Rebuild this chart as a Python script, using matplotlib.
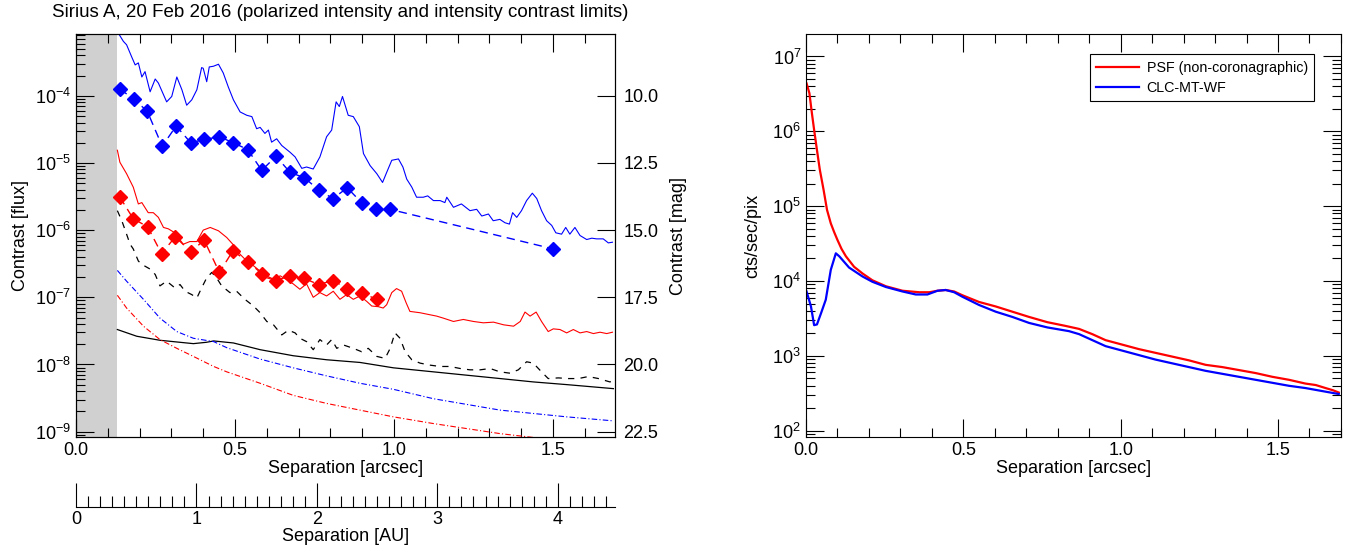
import numpy as np
import matplotlib.pyplot as plt
from matplotlib.ticker import MultipleLocator, LogLocator, FixedLocator, FormatStrFormatter, NullFormatter

plt.rcParams['font.family'] = ['Liberation Sans', 'DejaVu Sans']
plt.rcParams['mathtext.fontset'] = 'custom'
plt.rcParams['mathtext.rm'] = 'Liberation Sans'
plt.rcParams['mathtext.it'] = 'Liberation Sans:italic'
plt.rcParams['mathtext.bf'] = 'Liberation Sans:bold'

AU_PER_ARCSEC = 2.64
IWA = 0.13

# ---- left panel: log10(contrast) vs separation [arcsec] ----
# intensity contrast limit (blue solid)
int_sep = [0.130, 0.136, 0.149, 0.159, 0.175, 0.186, 0.196, 0.207, 0.217, 0.233, 0.249, 0.259, 0.285,
           0.301, 0.317, 0.333, 0.348, 0.364, 0.380, 0.395, 0.400, 0.411, 0.419, 0.432, 0.448, 0.463,
           0.479, 0.495, 0.516, 0.537, 0.553, 0.568, 0.579, 0.594, 0.605, 0.615, 0.631, 0.647, 0.673,
           0.689, 0.710, 0.725, 0.746, 0.767, 0.788, 0.804, 0.818, 0.828, 0.838, 0.856, 0.872, 0.891,
           0.904, 0.925, 0.946, 0.964, 0.977, 0.993, 1.014, 1.028, 1.040, 1.056, 1.071, 1.092, 1.106,
           1.124, 1.145, 1.160, 1.166, 1.187, 1.212, 1.239, 1.260, 1.276, 1.297, 1.312, 1.333, 1.349,
           1.363, 1.373, 1.386, 1.401, 1.417, 1.435, 1.449, 1.464, 1.480, 1.496, 1.509, 1.527, 1.540,
           1.553, 1.569, 1.585, 1.606, 1.622, 1.637, 1.658, 1.674, 1.687]
int_lg = [-2.95, -3.09, -3.19, -3.24, -3.42, -3.54, -3.51, -3.72, -3.64, -3.94, -3.75, -3.81, -4.09,
          -4.01, -3.72, -3.91, -4.14, -4.06, -3.91, -3.58, -3.59, -3.79, -3.57, -3.56, -3.53, -3.66,
          -3.87, -4.06, -4.24, -4.29, -4.31, -4.49, -4.47, -4.56, -4.51, -4.69, -4.64, -4.74, -4.84,
          -4.91, -5.08, -5.06, -5.09, -4.91, -4.61, -4.51, -4.09, -4.16, -4.01, -4.29, -4.31, -4.46,
          -4.86, -5.04, -5.16, -5.29, -5.14, -4.96, -4.94, -5.06, -5.24, -5.36, -5.51, -5.51, -5.49,
          -5.56, -5.56, -5.59, -5.51, -5.66, -5.61, -5.71, -5.69, -5.79, -5.76, -5.86, -5.84, -5.89,
          -5.91, -5.74, -5.81, -5.71, -5.56, -5.45, -5.53, -5.71, -5.86, -5.93, -6.04, -6.06, -5.96,
          -6.06, -5.96, -6.08, -6.14, -6.12, -6.13, -6.13, -6.19, -6.18]

# intensity point-source limits (blue diamonds)
int_pts_sep = [0.138, 0.182, 0.224, 0.271, 0.315, 0.361, 0.403, 0.451, 0.495, 0.540, 0.584,
               0.629, 0.673, 0.718, 0.763, 0.808, 0.853, 0.898, 0.943, 0.987, 1.501]
int_pts_lg = [-3.90, -4.05, -4.23, -4.75, -4.45, -4.70, -4.65, -4.61, -4.70, -4.80, -5.11,
              -4.90, -5.14, -5.22, -5.40, -5.53, -5.37, -5.59, -5.69, -5.69, -6.28]

# polarized intensity contrast limit (red solid)
pi_sep = [0.130, 0.138, 0.159, 0.180, 0.196, 0.207, 0.227, 0.243, 0.259, 0.275, 0.290, 0.311,
          0.337, 0.358, 0.380, 0.400, 0.422, 0.448, 0.474, 0.495, 0.516, 0.537, 0.558, 0.579,
          0.600, 0.621, 0.642, 0.663, 0.683, 0.704, 0.725, 0.746, 0.767, 0.788, 0.809, 0.830,
          0.851, 0.872, 0.893, 0.914, 0.930, 0.951, 0.966, 0.977, 0.993, 1.008, 1.024, 1.038,
          1.050, 1.082, 1.113, 1.134, 1.155, 1.187, 1.218, 1.250, 1.281, 1.313, 1.345, 1.376,
          1.397, 1.412, 1.428, 1.447, 1.464, 1.485, 1.501, 1.522, 1.543, 1.564, 1.585, 1.606,
          1.627, 1.648, 1.669, 1.687]
pi_lg = [-4.81, -4.99, -5.16, -5.36, -5.61, -5.59, -5.74, -5.74, -5.81, -5.96, -5.98, -6.04,
         -6.21, -6.17, -6.17, -6.00, -5.96, -6.01, -6.11, -6.22, -6.36, -6.46, -6.53, -6.61,
         -6.71, -6.74, -6.68, -6.74, -6.80, -6.88, -6.80, -7.00, -6.93, -6.98, -6.91, -7.03,
         -6.96, -7.03, -6.98, -7.06, -7.13, -7.14, -7.16, -7.11, -6.93, -6.87, -6.91, -7.08,
         -7.21, -7.23, -7.26, -7.28, -7.31, -7.36, -7.33, -7.36, -7.38, -7.37, -7.41, -7.43,
         -7.36, -7.22, -7.28, -7.22, -7.36, -7.51, -7.47, -7.48, -7.53, -7.48, -7.53, -7.51,
         -7.54, -7.52, -7.54, -7.52]

# polarized intensity point-source limits (red diamonds)
pi_pts_sep = [0.138, 0.180, 0.225, 0.269, 0.312, 0.361, 0.403, 0.451, 0.493, 0.542,
              0.584, 0.629, 0.673, 0.718, 0.763, 0.808, 0.853, 0.898, 0.945]
pi_pts_lg = [-5.51, -5.83, -5.95, -6.35, -6.10, -6.32, -6.15, -6.63, -6.31, -6.47,
             -6.65, -6.75, -6.68, -6.72, -6.81, -6.75, -6.87, -6.93, -7.03]

# black dashed
bd_sep = [0.130, 0.144, 0.159, 0.170, 0.180, 0.196, 0.207, 0.233, 0.249, 0.264, 0.285, 0.311,
          0.327, 0.343, 0.364, 0.380, 0.395, 0.411, 0.427, 0.442, 0.458, 0.484, 0.505, 0.531,
          0.558, 0.579, 0.600, 0.621, 0.647, 0.668, 0.689, 0.704, 0.725, 0.746, 0.767, 0.788,
          0.804, 0.820, 0.841, 0.872, 0.898, 0.919, 0.946, 0.972, 0.988, 1.003, 1.019, 1.035,
          1.056, 1.082, 1.113, 1.145, 1.176, 1.208, 1.239, 1.271, 1.302, 1.333, 1.365, 1.391,
          1.417, 1.438, 1.464, 1.485, 1.517, 1.548, 1.580, 1.611, 1.643, 1.679, 1.692]
bd_lg = [-5.71, -5.86, -6.06, -6.21, -6.28, -6.46, -6.51, -6.58, -6.66, -6.83, -6.76, -6.86,
         -6.81, -6.91, -6.96, -7.01, -6.86, -6.71, -6.63, -6.71, -6.83, -6.93, -6.91, -7.03,
         -7.13, -7.23, -7.36, -7.41, -7.56, -7.49, -7.53, -7.61, -7.66, -7.78, -7.63, -7.71,
         -7.63, -7.76, -7.71, -7.76, -7.81, -7.76, -7.88, -7.91, -7.76, -7.53, -7.61, -7.81,
         -7.93, -7.98, -8.01, -8.03, -8.03, -8.06, -8.08, -8.08, -8.06, -8.11, -8.13, -8.08,
         -7.96, -7.98, -8.11, -8.21, -8.20, -8.21, -8.21, -8.18, -8.21, -8.26, -8.24]

# black solid (smooth)
bs_sep = [0.130, 0.191, 0.264, 0.369, 0.410, 0.433, 0.495, 0.579, 0.683, 0.788, 0.893,
          0.998, 1.124, 1.229, 1.334, 1.438, 1.543, 1.690]
bs_lg = [-7.48, -7.58, -7.64, -7.69, -7.67, -7.65, -7.68, -7.78, -7.87, -7.93, -7.97,
         -8.05, -8.11, -8.16, -8.21, -8.26, -8.30, -8.36]

# blue dash-dot (smooth)
bdd_sep = [0.130, 0.159, 0.212, 0.264, 0.317, 0.369, 0.433, 0.474, 0.579, 0.683, 0.788,
           0.893, 0.998, 1.124, 1.334, 1.543, 1.690]
bdd_lg = [-6.60, -6.76, -7.03, -7.31, -7.51, -7.61, -7.66, -7.75, -7.92, -8.05, -8.17,
          -8.28, -8.37, -8.51, -8.68, -8.78, -8.84]

# red dash-dot (smooth)
rdd_sep = [0.130, 0.159, 0.212, 0.264, 0.317, 0.369, 0.433, 0.474, 0.579, 0.683, 0.788,
           0.893, 0.998, 1.124, 1.334, 1.480, 1.600]
rdd_lg = [-6.97, -7.16, -7.43, -7.63, -7.76, -7.88, -8.03, -8.11, -8.28, -8.46, -8.58,
          -8.68, -8.78, -8.88, -9.03, -9.11, -9.20]

# ---- right panel: log10(cts/sec/pix) ----
psf_sep = [0.002, 0.011, 0.019, 0.026, 0.035, 0.044, 0.056, 0.067, 0.079, 0.090, 0.100, 0.113,
           0.127, 0.153, 0.180, 0.211, 0.254, 0.307, 0.360, 0.392, 0.418, 0.444, 0.471, 0.497,
           0.550, 0.603, 0.656, 0.709, 0.767, 0.825, 0.868, 0.910, 0.952, 1.005, 1.058, 1.111,
           1.164, 1.217, 1.270, 1.323, 1.376, 1.429, 1.482, 1.535, 1.587, 1.620, 1.651, 1.675,
           1.693]
psf_lg = [6.64, 6.51, 6.24, 6.02, 5.75, 5.49, 5.22, 4.95, 4.77, 4.65, 4.55, 4.43,
          4.33, 4.19, 4.10, 4.01, 3.93, 3.87, 3.85, 3.85, 3.87, 3.88, 3.86, 3.81,
          3.72, 3.66, 3.59, 3.52, 3.45, 3.40, 3.36, 3.29, 3.21, 3.15, 3.09, 3.04,
          2.99, 2.94, 2.88, 2.85, 2.81, 2.77, 2.72, 2.68, 2.63, 2.61, 2.57, 2.54,
          2.51]

clc_sep = [0.002, 0.016, 0.026, 0.035, 0.048, 0.063, 0.079, 0.095, 0.106, 0.137, 0.180, 0.211,
           0.254, 0.307, 0.349, 0.386, 0.418, 0.444, 0.471, 0.497, 0.550, 0.603, 0.656, 0.709,
           0.767, 0.836, 0.868, 0.910, 0.952, 1.005, 1.058, 1.111, 1.164, 1.217, 1.270, 1.323,
           1.376, 1.429, 1.482, 1.535, 1.587, 1.640, 1.693]
clc_lg = [3.86, 3.66, 3.41, 3.42, 3.57, 3.75, 4.15, 4.37, 4.33, 4.18, 4.06, 3.99,
          3.92, 3.86, 3.82, 3.82, 3.87, 3.88, 3.85, 3.79, 3.68, 3.59, 3.52, 3.44,
          3.38, 3.33, 3.29, 3.21, 3.13, 3.07, 3.01, 2.95, 2.90, 2.85, 2.80, 2.76,
          2.72, 2.68, 2.64, 2.60, 2.57, 2.53, 2.49]


def p(lg):
    return 10.0 ** np.asarray(lg)


fig = plt.figure(figsize=(13.6, 5.54), dpi=100)
ax = fig.add_axes([0.0559, 0.2112, 0.3963, 0.7274])
ax2 = fig.add_axes([0.5926, 0.2112, 0.3934, 0.7274])

tick_kw = dict(direction='in', top=True, labelsize=13)

# ---------- left panel ----------
ax.axvspan(0, IWA, color='#d0d0d0', lw=0, zorder=0)
ax.plot(int_sep, p(int_lg), color='blue', lw=0.8)
ax.plot(pi_sep, p(pi_lg), color='red', lw=0.8)
ax.plot(bd_sep, p(bd_lg), color='black', lw=0.9, dashes=(5, 5))
ax.plot(bs_sep, p(bs_lg), color='black', lw=0.9)
ax.plot(bdd_sep, p(bdd_lg), color='blue', lw=0.8, dashes=(5, 2, 1, 2))
ax.plot(rdd_sep, p(rdd_lg), color='red', lw=0.8, dashes=(5, 2, 1, 2))
ax.plot(int_pts_sep, p(int_pts_lg), color='blue', lw=1.0, dashes=(6, 4),
        marker='D', ms=7.5, mec='blue', mfc='blue')
ax.plot(pi_pts_sep, p(pi_pts_lg), color='red', lw=1.0, dashes=(6, 4),
        marker='D', ms=7.5, mec='red', mfc='red')

ax.set_yscale('log')
ax.set_xlim(0, 1.695)
ax.set_ylim(10 ** -9.08, 10 ** -3.08)
ax.xaxis.set_major_locator(MultipleLocator(0.5))
ax.xaxis.set_minor_locator(MultipleLocator(0.1))
ax.xaxis.set_major_formatter(FormatStrFormatter('%.1f'))
ax.yaxis.set_major_locator(LogLocator(base=10, numticks=20))
ax.yaxis.set_minor_locator(LogLocator(base=10, subs=np.arange(2, 10), numticks=20))
ax.yaxis.set_minor_formatter(NullFormatter())
ax.tick_params(axis='both', which='major', length=13, width=0.8, **tick_kw)
ax.tick_params(axis='both', which='minor', length=6.5, width=0.8, direction='in', top=True)
ax.tick_params(axis='y', right=False)
ax.set_xlabel('Separation [arcsec]', fontsize=13, labelpad=1)
ax.set_ylabel('Contrast [flux]', fontsize=13, labelpad=4)
fig.text(0.25, 0.978, 'Sirius A, 20 Feb 2016 (polarized intensity and intensity contrast limits)',
         fontsize=13.5, ha='center', va='center')

mag = ax.twinx()
y0, y1 = ax.get_ylim()
mag.set_ylim(-2.5 * np.log10(y0), -2.5 * np.log10(y1))
mag.yaxis.set_major_locator(FixedLocator([10.0, 12.5, 15.0, 17.5, 20.0, 22.5]))
mag.yaxis.set_major_formatter(FormatStrFormatter('%.1f'))
mag.tick_params(axis='y', direction='in', length=13, width=0.8, labelsize=13, pad=6)
mag.set_ylabel('Contrast [mag]', fontsize=13, labelpad=8)

au = ax.secondary_xaxis(-0.174, functions=(lambda x: x * AU_PER_ARCSEC,
                                           lambda x: x / AU_PER_ARCSEC))
au.xaxis.set_major_locator(FixedLocator([0, 1, 2, 3, 4]))
au.xaxis.set_minor_locator(FixedLocator(np.round(np.arange(0.1, 4.45, 0.1), 1)))
au.xaxis.set_major_formatter(FormatStrFormatter('%d'))
au.tick_params(which='major', direction='in', length=17, width=0.8, labelsize=13, pad=3)
au.tick_params(which='minor', direction='in', length=8, width=0.8)
au.set_xlabel('Separation [AU]', fontsize=13, labelpad=0)

for s in ax.spines.values():
    s.set_linewidth(0.8)

# ---------- right panel ----------
ax2.plot(psf_sep, p(psf_lg), color='red', lw=1.6, label='PSF (non-coronagraphic)')
ax2.plot(clc_sep, p(clc_lg), color='blue', lw=1.6, label='CLC-MT-WF')
ax2.set_yscale('log')
ax2.set_xlim(0, 1.7)
ax2.set_ylim(10 ** 1.916, 10 ** 7.30)
ax2.xaxis.set_major_locator(MultipleLocator(0.5))
ax2.xaxis.set_minor_locator(MultipleLocator(0.1))
ax2.xaxis.set_major_formatter(FormatStrFormatter('%.1f'))
ax2.yaxis.set_major_locator(LogLocator(base=10, numticks=20))
ax2.yaxis.set_minor_locator(LogLocator(base=10, subs=np.arange(2, 10), numticks=20))
ax2.yaxis.set_minor_formatter(NullFormatter())
ax2.tick_params(axis='both', which='major', length=13, width=0.8, right=True, **tick_kw)
ax2.tick_params(axis='both', which='minor', length=6.5, width=0.8, direction='in',
                top=True, right=True)
ax2.set_xlabel('Separation [arcsec]', fontsize=13, labelpad=1)
ax2.set_ylabel('cts/sec/pix', fontsize=13, labelpad=8)
leg = ax2.legend(loc='upper right', bbox_to_anchor=(0.95, 0.95), borderaxespad=0,
                 fontsize=10.3, frameon=True, fancybox=False, edgecolor='black',
                 framealpha=1, handlelength=3.0, handletextpad=0.5, borderpad=0.45,
                 labelspacing=0.45)
leg.get_frame().set_linewidth(0.8)
for s in ax2.spines.values():
    s.set_linewidth(0.8)

fig.savefig('out.png', dpi=100)
